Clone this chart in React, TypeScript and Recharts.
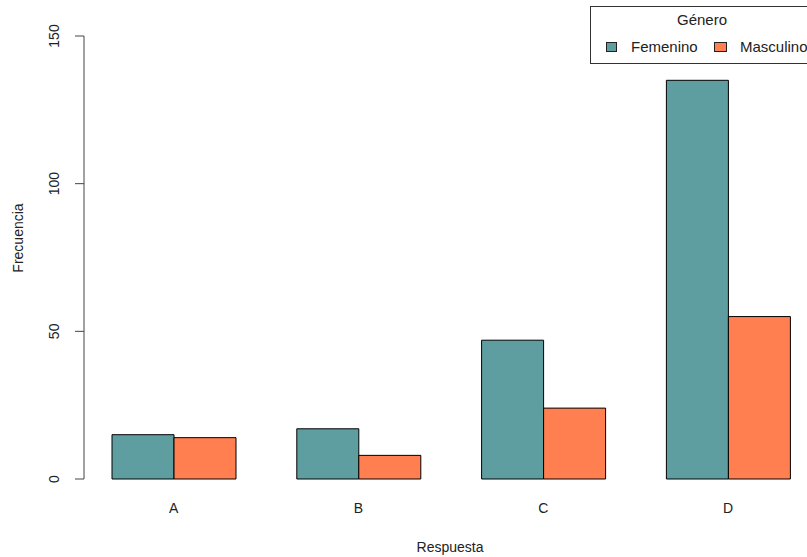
import { Bar, BarChart, XAxis, YAxis } from 'recharts';

const respuestas = ['A', 'B', 'C', 'D'];
const femenino = [15, 17, 47, 135];
const masculino = [14, 8, 24, 55];
const yTicks = [0, 50, 100, 150];

const data = respuestas.map((r, i) => ({ respuesta: r, Femenino: femenino[i], Masculino: masculino[i] }));

const FONT = '"Liberation Sans", Arial, sans-serif';
const TEAL = '#5F9EA0';
const CORAL = '#FF7F50';

const YTick = ({ x, y, payload }: any) => (
  <text
    x={x - 14}
    y={y}
    transform={`rotate(-90, ${x - 14}, ${y})`}
    textAnchor="middle"
    fontSize={14}
    fontFamily={FONT}
    fill="#222"
  >
    {payload.value}
  </text>
);

const XTick = ({ x, y, payload }: any) => (
  <text x={x} y={y + 26} textAnchor="middle" fontSize={14} fontFamily={FONT} fill="#222">
    {payload.value}
  </text>
);

// leyenda al estilo de R, cortada por el borde derecho
const LegendBox = () => (
  <div
    style={{
      position: 'absolute',
      left: 590,
      top: 6,
      boxSizing: 'border-box',
      width: 224,
      height: 58,
      border: '1px solid #333',
      background: '#fff',
      fontFamily: FONT,
      fontSize: 15,
      lineHeight: '17px',
      color: '#222',
    }}
  >
    <div style={{ position: 'absolute', top: 4, left: 0, width: '100%', textAlign: 'center' }}>Género</div>
    <div style={{ position: 'absolute', top: 35, left: 15, width: 11, height: 10, background: TEAL, border: '1px solid #222', boxSizing: 'border-box' }} />
    <div style={{ position: 'absolute', top: 31, left: 40 }}>Femenino</div>
    <div style={{ position: 'absolute', top: 35, left: 123, width: 13, height: 10, background: CORAL, border: '1px solid #222', boxSizing: 'border-box' }} />
    <div style={{ position: 'absolute', top: 31, left: 149 }}>Masculino</div>
  </div>
);

export default function App() {
  return (
    <div style={{ position: 'absolute', left: 0, top: 0, width: 807, height: 557, overflow: 'hidden', background: '#fff' }}>
      <BarChart
        width={830}
        height={557}
        data={data}
        margin={{ top: 36, right: 9.6, bottom: 0, left: 0 }}
        barCategoryGap="16.667%"
        barGap={0}
      >
        <XAxis
          dataKey="respuesta"
          axisLine={false}
          tickLine={false}
          height={78}
          padding={{ left: -2.8, right: 0 }}
          tick={<XTick />}
          interval={0}
          label={{
            content: () => (
              <text x={450} y={552} textAnchor="middle" fontSize={14} fontFamily={FONT} fill="#222">
                Respuesta
              </text>
            ),
          }}
        />
        <YAxis
          width={84}
          domain={[0, 150]}
          ticks={yTicks}
          tickSize={9}
          stroke="#444"
          tick={<YTick />}
          label={{
            content: () => (
              <text x={23} y={238} transform="rotate(-90, 23, 238)" textAnchor="middle" fontSize={14} fontFamily={FONT} fill="#222">
                Frecuencia
              </text>
            ),
          }}
        />
        <Bar dataKey="Femenino" fill={TEAL} stroke="#000" strokeWidth={1} isAnimationActive={false} />
        <Bar dataKey="Masculino" fill={CORAL} stroke="#000" strokeWidth={1} isAnimationActive={false} />
      </BarChart>
      <LegendBox />
    </div>
  );
}
